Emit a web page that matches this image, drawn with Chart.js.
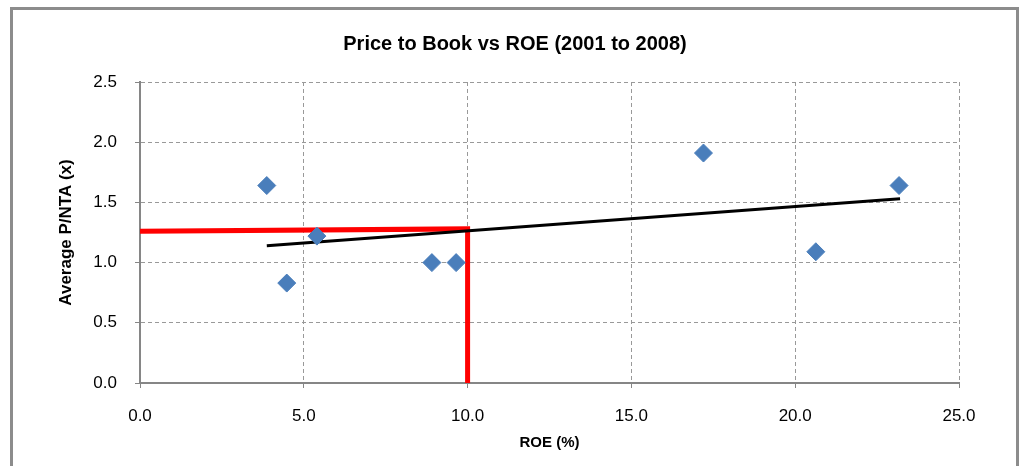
<!DOCTYPE html>
<html>
<head>
<meta charset="utf-8">
<script src="https://cdn.jsdelivr.net/npm/chart.js@4.4.0/dist/chart.umd.min.js"></script>
<style>
    html, body { margin: 0; padding: 0; background: #fff; }
    #wrap { position: relative; width: 1020px; height: 466px; overflow: hidden; }
    #frame {
        position: absolute; left: 10px; top: 7px; width: 1009px; height: 470px;
        border: 3px solid #8c8c8c; border-bottom: none; box-sizing: border-box;
        pointer-events: none;
    }
    canvas { position: absolute; left: 0; top: 0; }
</style>
</head>
<body>
<div id="wrap">
    <canvas id="chart" width="1020" height="466"></canvas>
    <div id="frame"></div>
</div>
<script>
// ROE (%) vs average P/NTA
const roe = [3.87, 4.48, 5.40, 8.91, 9.65, 17.2, 20.63, 23.17];
const pnta = [1.64, 0.83, 1.22, 1.00, 1.00, 1.91, 1.09, 1.64];

// linear trend line end points
const trendX = [3.87, 23.2];
const trendY = [1.14, 1.53];

// red guide line (10% ROE)
const guideX = [0, 10, 10];
const guideY = [1.26, 1.28, 0];

const xTickLabels = ["0.0", "5.0", "10.0", "15.0", "20.0", "25.0"];
const yTickLabels = ["0.0", "0.5", "1.0", "1.5", "2.0", "2.5"];

const FONT = "'Liberation Sans', Arial, sans-serif";

const toPoints = (xs, ys) => xs.map((x, i) => ({ x: x, y: ys[i] }));

const gridStyle = {
    color: "#999999",
    lineWidth: 1,
    tickColor: "#868686",
    tickLength: 5,
    tickWidth: 1,
};

new Chart(document.getElementById("chart"), {
    type: "scatter",
    data: {
        datasets: [
            {
                label: "P/NTA",
                data: toPoints(roe, pnta),
                pointStyle: "rectRot",
                pointRadius: 9,
                backgroundColor: "#4a7ebb",
                borderColor: "#4a7ebb",
                borderWidth: 1,
                order: 0,
            },
            {
                label: "Trend",
                data: toPoints(trendX, trendY),
                showLine: true,
                borderColor: "#000",
                borderWidth: 3,
                pointRadius: 0,
                order: 1,
            },
            {
                label: "Guide",
                data: toPoints(guideX, guideY),
                showLine: true,
                borderColor: "#ff0000",
                borderWidth: 5,
                borderJoinStyle: "miter",
                pointRadius: 0,
                order: 2,
            },
        ],
    },
    options: {
        responsive: false,
        animation: false,
        layout: { padding: { left: 10, right: 0, top: 0, bottom: 0 } },
        plugins: {
            legend: { display: false },
            tooltip: { enabled: false },
            title: {
                display: true,
                text: "Price to Book vs ROE (2001 to 2008)",
                color: "#000",
                font: { family: FONT, size: 20, weight: "bold", lineHeight: 1.2 },
                padding: { top: 32, bottom: 26 },
            },
        },
        scales: {
            x: {
                type: "linear",
                min: 0,
                max: 25,
                afterFit: (s) => { s.height = 83; },
                ticks: {
                    stepSize: 5,
                    padding: 18,
                    color: "#000",
                    font: { family: FONT, size: 17 },
                    callback: (v, i) => xTickLabels[i],
                },
                grid: gridStyle,
                border: { color: "#868686", width: 2, dash: [4, 3] },
                title: {
                    display: true,
                    text: "ROE (%)",
                    color: "#000",
                    font: { family: FONT, size: 15, weight: "bold", lineHeight: 1.2 },
                    padding: { top: 0, bottom: 14 },
                },
            },
            y: {
                type: "linear",
                min: 0,
                max: 2.5,
                afterFit: (s) => { s.width = 130; },
                ticks: {
                    stepSize: 0.5,
                    padding: 18,
                    color: "#000",
                    font: { family: FONT, size: 17 },
                    callback: (v, i) => yTickLabels[i],
                },
                grid: gridStyle,
                border: { color: "#868686", width: 2, dash: [4, 3] },
                title: {
                    display: true,
                    text: "Average P/NTA (x)",
                    color: "#000",
                    font: { family: FONT, size: 17, weight: "bold", lineHeight: 1.2 },
                    padding: { top: 46, bottom: 0 },
                },
            },
            // empty right axis, only reserves the space right of the plot
            y2: {
                type: "linear",
                position: "right",
                afterFit: (s) => { s.width = 61; },
                ticks: { display: false },
                grid: { display: false },
                border: { display: false },
            },
        },
    },
});
</script>
</body>
</html>
